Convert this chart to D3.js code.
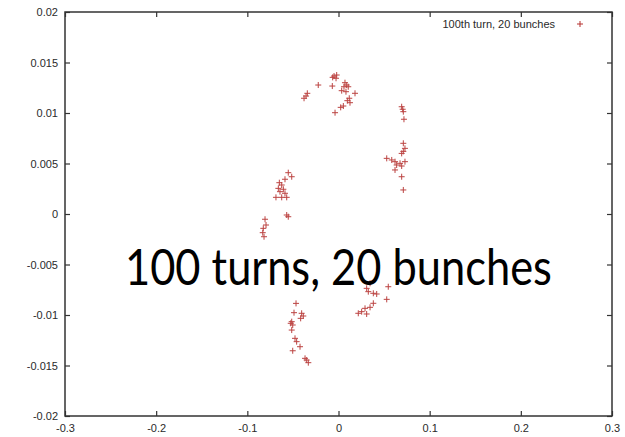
<!DOCTYPE html>
<html>
<head>
<meta charset="utf-8">
<script src="https://cdn.jsdelivr.net/npm/d3@7"></script>
<style>
  html, body { margin: 0; padding: 0; background: #fff; }
  svg { display: block; }
</style>
</head>
<body>
<svg id="chart" width="625" height="437"></svg>
<script>
// ---- data ----
const xTicks = [-0.3, -0.2, -0.1, 0, 0.1, 0.2, 0.3];
const xTickLabels = ["-0.3", "-0.2", "-0.1", "0", "0.1", "0.2", "0.3"];
const yTicks = [0.02, 0.015, 0.01, 0.005, 0, -0.005, -0.01, -0.015, -0.02];
const yTickLabels = ["0.02", "0.015", "0.01", "0.005", "0", "-0.005", "-0.01", "-0.015", "-0.02"];
const seriesName = "100th turn, 20 bunches";
const annotation = "100 turns, 20 bunches";

const xValues = [
  // top centre
  -0.0049, -0.0020, -0.0027, -0.0064, -0.0222, -0.0068, 0.0071, 0.0090, 0.0060, 0.0107,
  0.0035, 0.0082, 0.0181, 0.0118, 0.0097, 0.0126, 0.0053, 0.0024, -0.0038, -0.0342,
  -0.0356, -0.0378,
  // right upper
  0.0693, 0.0704, 0.0711, 0.0718, 0.0711, 0.0729, 0.0711, 0.0693, 0.0529, 0.0584,
  0.0620, 0.0675, 0.0729, 0.0638, 0.0693, 0.0620, 0.0693, 0.0711,
  // left middle
  -0.0551, -0.0513, -0.0587, -0.0649, -0.0623, -0.0660, -0.0605, -0.0642, -0.0587, -0.0686,
  -0.0623, -0.0568, -0.0568, -0.0551, -0.0806, -0.0795, -0.0825, -0.0831, -0.0817,
  // right lower
  0.0346, 0.0309, 0.0327, 0.0382, 0.0419, 0.0546, 0.0529, 0.0382, 0.0346, 0.0291,
  0.0254, 0.0309, 0.0217,
  // left lower
  -0.0466, -0.0488, -0.0404, -0.0386, -0.0415, -0.0513, -0.0524, -0.0502, -0.0513, -0.0477,
  -0.0459, -0.0422, -0.0502, -0.0367, -0.0349, -0.0331
];
const yValues = [
  0.01366, 0.01376, 0.01344, 0.01353, 0.01277, 0.01267, 0.01300, 0.01277, 0.01260, 0.01260,
  0.01221, 0.01211, 0.01195, 0.01146, 0.01122, 0.01102, 0.01069, 0.01056, 0.01003, 0.01195,
  0.01168, 0.01146,
  0.01062, 0.01037, 0.01013, 0.00938, 0.00700, 0.00650, 0.00620, 0.00600, 0.00551, 0.00535,
  0.00518, 0.00502, 0.00518, 0.00485, 0.00475, 0.00436, 0.00369, 0.00238,
  0.00409, 0.00369, 0.00344, 0.00310, 0.00287, 0.00254, 0.00245, 0.00221, 0.00205, 0.00165,
  0.00165, 0.00165, -0.00010, -0.00027, -0.00052, -0.00109, -0.00142, -0.00185, -0.00225,
  -0.00686, -0.00736, -0.00769, -0.00785, -0.00792, -0.00720, -0.00845, -0.00884, -0.00924, -0.00934,
  -0.00967, -0.00990, -0.00983,
  -0.00885, -0.00977, -0.00983, -0.01010, -0.01033, -0.01066, -0.01082, -0.01099, -0.01149, -0.01231,
  -0.01264, -0.01314, -0.01354, -0.01429, -0.01446, -0.01472
];

// ---- layout ----
const svg = d3.select("#chart");
const mLeft = 65, mRight = 612, mTop = 12, mBottom = 416;
const x = d3.scaleLinear().domain([-0.3, 0.3]).range([mLeft, mRight]);
const y = d3.scaleLinear().domain([-0.02, 0.02]).range([mBottom, mTop]);
const axisColor = "#333";
const labelColor = "#2a2a2a";
const markColor = "#b5302e";
const font = "'Liberation Sans', Arial, sans-serif";

const tickLen = 5;
function styleAxis(g) {
  g.select(".domain").remove();
  g.selectAll(".tick line").attr("stroke", axisColor).attr("stroke-width", 1.2);
  g.selectAll(".tick text").attr("fill", labelColor).attr("font-family", font).attr("font-size", 11);
}

// bottom axis (ticks inward)
svg.append("g").attr("transform", `translate(0,${mBottom})`)
  .call(d3.axisBottom(x).tickValues(xTicks).tickFormat((d, i) => xTickLabels[i])
    .tickSizeInner(-tickLen).tickSizeOuter(0).tickPadding(8))
  .call(styleAxis);
// top axis ticks
svg.append("g").attr("transform", `translate(0,${mTop})`)
  .call(d3.axisTop(x).tickValues(xTicks).tickFormat("").tickSizeInner(-tickLen).tickSizeOuter(0))
  .call(styleAxis);
// left axis
svg.append("g").attr("transform", `translate(${mLeft},0)`)
  .call(d3.axisLeft(y).tickValues(yTicks).tickFormat((d, i) => yTickLabels[i])
    .tickSizeInner(-tickLen).tickSizeOuter(0).tickPadding(7))
  .call(styleAxis);
// right axis ticks
svg.append("g").attr("transform", `translate(${mRight},0)`)
  .call(d3.axisRight(y).tickValues(yTicks).tickFormat("").tickSizeInner(-tickLen).tickSizeOuter(0))
  .call(styleAxis);

// frame
svg.append("rect")
  .attr("x", mLeft).attr("y", mTop)
  .attr("width", mRight - mLeft).attr("height", mBottom - mTop)
  .attr("fill", "none").attr("stroke", axisColor).attr("stroke-width", 1.5);

// points as "+"
const pts = xValues.map((v, i) => ({ x: v, y: yValues[i] }));
const s = 3;
const plus = svg.append("g").attr("stroke", markColor).attr("stroke-width", 1).attr("opacity", 0.9);
plus.selectAll("path").data(pts).enter().append("path")
  .attr("d", d => {
    const px = x(d.x), py = y(d.y);
    return `M${px - s},${py}H${px + s}M${px},${py - s}V${py + s}`;
  });

// legend
const legX = 555, legY = 24;
svg.append("text").attr("x", legX).attr("y", legY).attr("dy", "0.35em")
  .attr("text-anchor", "end").attr("font-family", font).attr("font-size", 11)
  .attr("fill", labelColor).text(seriesName);
svg.append("path")
  .attr("d", `M${580 - s},${legY}H${580 + s}M580,${legY - s}V${legY + s}`)
  .attr("stroke", markColor).attr("stroke-width", 1);

// annotation: large text, horizontally condensed to fit its span
const annG = svg.append("g");
const ann = annG.append("text").attr("x", 0).attr("y", 0)
  .attr("font-family", "Lato, 'Open Sans', sans-serif").attr("font-size", 51)
  .attr("fill", "#000")
  .text(annotation);
const natW = ann.node().getComputedTextLength();
const targetW = 427;
annG.attr("transform", `translate(125,285) scale(${targetW / natW},1)`);
</script>
</body>
</html>
